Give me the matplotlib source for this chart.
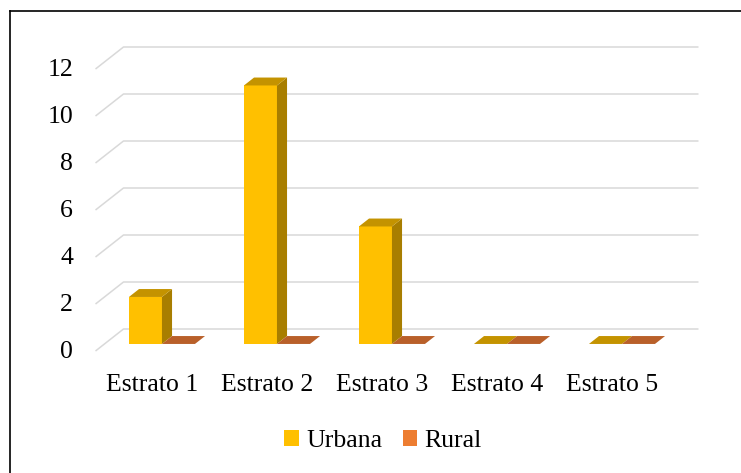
import numpy as np
import matplotlib.pyplot as plt
from matplotlib.patches import Polygon, Patch
from matplotlib.lines import Line2D

plt.rcParams['font.family'] = ['Liberation Serif', 'DejaVu Serif']

# datos del grafico
categorias = ['Estrato 1', 'Estrato 2', 'Estrato 3', 'Estrato 4', 'Estrato 5']
urbana = [2, 11, 5, 0, 0]
rural = [0, 0, 0, 0, 0]
series = ['Urbana', 'Rural']
yticks = [0, 2, 4, 6, 8, 10, 12]

# colores (frente, lado, tapa)
col_urbana = ('#FFC000', '#A87E00', '#C49300')
col_rural = ('#ED7D31', '#9E4E1C', '#B9602A')
col_grid = '#D9D9D9'

W, H = 741, 473
fig = plt.figure(figsize=(W / 100, H / 100), dpi=100)
ax = fig.add_axes([0, 0, 1, 1])
ax.axis('off')

# escala: 115 px por categoria, 23.5 px por unidad
px_x, px_y = 115.0, 23.5
x0_px, y0_px = 153.0, 351.0
ax.set_xlim(-x0_px / px_x, (W - x0_px) / px_x)
ax.set_ylim((y0_px - H) / px_y, y0_px / px_y)

# profundidad del piso
Dx, Dy = 28 / px_x, 22 / px_y
t0, t1 = 0.32, 0.68
ancho = 0.287
xl, xr = -0.5, 4.5
fs = 18.5

# lineas de cuadricula (pared trasera + diagonal lateral)
for v in yticks:
    ax.plot([xl, xl + Dx, xr + Dx], [v, v + Dy, v + Dy], color=col_grid, lw=1.1,
            solid_capstyle='butt', zorder=1)
    ax.text(xl - 0.196, v - 0.06, str(v), ha='right', va='center', fontsize=fs, color='black')


def barra3d(xa, xb, v, cols):
    f, s, t = cols
    a0x, a0y = t0 * Dx, t0 * Dy
    a1x, a1y = t1 * Dx, t1 * Dy
    if v > 0:
        ax.add_patch(Polygon([(xa + a0x, a0y), (xb + a0x, a0y), (xb + a0x, v + a0y), (xa + a0x, v + a0y)],
                             closed=True, facecolor=f, edgecolor='none', zorder=3))
        ax.add_patch(Polygon([(xb + a0x, a0y), (xb + a1x, a1y), (xb + a1x, v + a1y), (xb + a0x, v + a0y)],
                             closed=True, facecolor=s, edgecolor='none', zorder=3))
    ax.add_patch(Polygon([(xa + a0x, v + a0y), (xb + a0x, v + a0y), (xb + a1x, v + a1y), (xa + a1x, v + a1y)],
                         closed=True, facecolor=t, edgecolor='none', zorder=3))


x = np.arange(len(categorias))
for i in x:
    barra3d(i - ancho, i, urbana[i], col_urbana)
    barra3d(i, i + ancho, rural[i], col_rural)
    ax.text(i - 0.01, -1.43, categorias[i], ha='center', va='center', fontsize=fs)

handles = [Patch(facecolor=col_urbana[0]), Patch(facecolor=col_rural[0])]
fig.legend(handles, series, loc='center', bbox_to_anchor=(383 / W, 1 - 441 / H), ncol=2,
           frameon=False, fontsize=fs, handlelength=0.56, handleheight=0.56,
           handletextpad=0.28, columnspacing=0.8)

# marco
fig.add_artist(Line2D([10 / W, 10 / W], [0, 1 - 11 / H], color='black', lw=1.2))
fig.add_artist(Line2D([10 / W, 1], [1 - 11 / H, 1 - 11 / H], color='black', lw=1.2))

fig.savefig('out.png', dpi=100)
